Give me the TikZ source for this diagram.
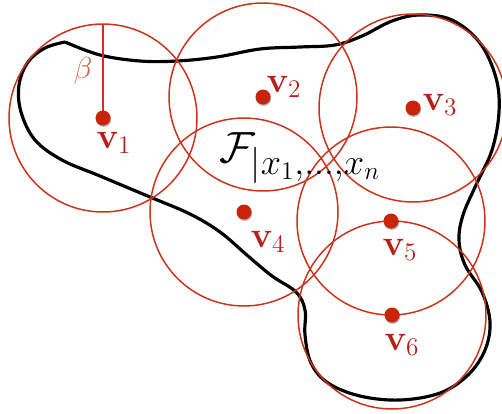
\documentclass[tikz,border=0pt]{standalone}
\usetikzlibrary{shadows}
\definecolor{ringred}{RGB}{202,52,28}
\definecolor{dotred}{RGB}{200,36,10}
\definecolor{labred}{RGB}{185,30,25}
\definecolor{betared}{RGB}{214,88,78}
\tikzset{
  ring/.style={draw=ringred, line width=0.85pt},
  dotnode/.style={circle, fill=dotred, inner sep=0pt, minimum size=0.3cm,
    drop shadow={shadow xshift=0.4pt, shadow yshift=-0.8pt, opacity=0.3, fill=black}},
  vlabel/.style={text=labred, inner sep=0pt, font=\fontsize{20}{24}\selectfont},
  boundary/.style={draw=black, line width=1.8pt, line join=round},
}
\begin{document}
\begin{tikzpicture}[x=0.02cm, y=-0.02cm]
\useasboundingbox (0,0) rectangle (502,413);
% centres
\coordinate (c1) at (103,118);
\coordinate (c2) at (263,97);
\coordinate (c3) at (413,108);
\coordinate (c4) at (244,212);
\coordinate (c5) at (391,221);
\coordinate (c6) at (392,315);
\coordinate (b1) at (103,24);
% boundary curve
\draw[boundary] plot[smooth, tension=0.6] coordinates {
 (65,42) (100,55) (140,61) (177,61) (217,57) (260,49) (300,47) (335,45)
 (362,36) (392,21) (420,15) (452,20) (480,43) (496,78) (499,112) (492,150)
 (476,185) (463,215) (459,240) (465,265) (482,292) (490,322) (485,350)
 (468,375) (440,393) (400,400) (360,396) (328,383) (311,363) (305,335)
 (305,310) (296,292) (272,276) (248,256) (220,232) (190,214) (150,197)
 (100,176) (62,160) (35,140) (21,112) (19,85) (28,62) (45,48) (65,42)};
% rings
\foreach \c in {c1,c2,c3,c4,c5,c6}
  \draw[ring] (\c) circle[radius=1.88cm];
\draw[ring] (c1) -- (b1);
\node[text=betared, inner sep=0pt, font=\fontsize{18}{21}\selectfont] (beta) at (83,71) {$\beta$};
% dots
\node[dotnode] (v1) at (c1) {};
\node[dotnode] (v2) at (c2) {};
\node[dotnode] (v3) at (c3) {};
\node[dotnode] (v4) at (c4) {};
\node[dotnode] (v5) at (c5) {};
\node[dotnode] (v6) at (c6) {};
% labels
\node[vlabel] (l1) at (114,143) {$\mathbf{v}_1$};
\node[vlabel] (l2) at (284,87) {$\mathbf{v}_2$};
\node[vlabel] (l3) at (440,105) {$\mathbf{v}_3$};
\node[vlabel] (l4) at (268,242) {$\mathbf{v}_4$};
\node[vlabel] (l5) at (400,250) {$\mathbf{v}_5$};
\node[vlabel] (l6) at (402,345) {$\mathbf{v}_6$};
\node[inner sep=0pt, anchor=west, font=\fontsize{29}{34}\selectfont] (F) at (219,158) {$\mathcal{F}_{|x_1,\ldots,x_n}$};
\end{tikzpicture}
\end{document}
